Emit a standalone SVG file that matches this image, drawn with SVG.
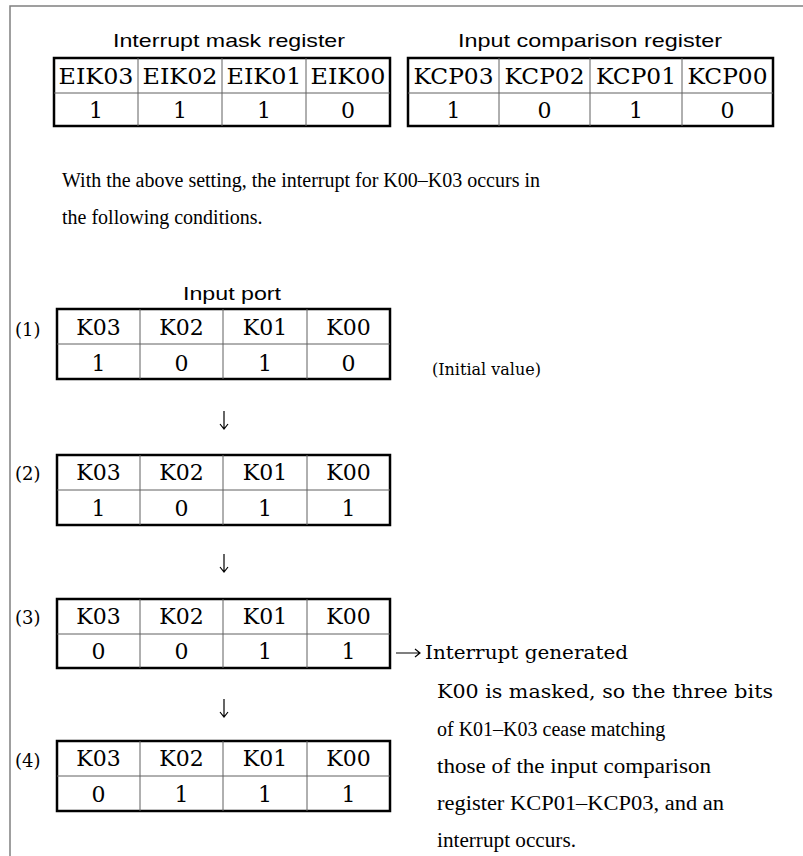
<svg xmlns="http://www.w3.org/2000/svg" width="803" height="856" viewBox="0 0 803 856">
  <style>
    .frame { fill: none; stroke: #808080; stroke-width: 1.5; }
    .outer { fill: #ffffff; stroke: #000000; stroke-width: 2.5; }
    .grid { stroke: #606060; stroke-width: 1; }
    .arrow { fill: none; stroke: #000000; stroke-width: 1.2; }
    .title { font-family: "Liberation Sans", Arial, sans-serif; font-size: 19px; fill: #000; text-anchor: middle; }
    .cell { font-family: "DejaVu Serif", "Liberation Serif", serif; font-size: 22px; fill: #000; text-anchor: middle; }
    .wide { font-family: "DejaVu Serif", "Liberation Serif", serif; font-size: 19px; fill: #000; }
    .body { font-family: "Liberation Serif", "Times New Roman", serif; font-size: 20px; fill: #000; }
    .small { font-family: "DejaVu Serif", "Liberation Serif", serif; font-size: 16px; fill: #000; }
    .num { font-family: "DejaVu Serif", "Liberation Serif", serif; font-size: 18px; fill: #000; }
  </style>

  <rect width="803" height="856" fill="#ffffff"/>
  <!-- page frame: top and left rules -->
  <path class="frame" d="M10,856 V6 H803"/>

  <!-- Interrupt mask register -->
  <g id="mask-register">
    <text class="title" x="229" y="47" textLength="232" lengthAdjust="spacingAndGlyphs">Interrupt mask register</text>
    <rect class="outer" x="54" y="58" width="336" height="68"/>
    <path class="grid" d="M54,93 H390 M138,58 V126 M222,58 V126 M306,58 V126"/>
    <text class="cell" x="96" y="84" textLength="75" lengthAdjust="spacingAndGlyphs">EIK03</text>
    <text class="cell" x="180" y="84" textLength="75" lengthAdjust="spacingAndGlyphs">EIK02</text>
    <text class="cell" x="264" y="84" textLength="75" lengthAdjust="spacingAndGlyphs">EIK01</text>
    <text class="cell" x="348" y="84" textLength="75" lengthAdjust="spacingAndGlyphs">EIK00</text>
    <text class="cell" x="96" y="118">1</text>
    <text class="cell" x="180" y="118">1</text>
    <text class="cell" x="264" y="118">1</text>
    <text class="cell" x="348" y="118">0</text>
  </g>

  <!-- Input comparison register -->
  <g id="comparison-register">
    <text class="title" x="590" y="47" textLength="264" lengthAdjust="spacingAndGlyphs">Input comparison register</text>
    <rect class="outer" x="408" y="58" width="365" height="68"/>
    <path class="grid" d="M408,93 H773 M499,58 V126 M590,58 V126 M682,58 V126"/>
    <text class="cell" x="453.5" y="84" textLength="80" lengthAdjust="spacingAndGlyphs">KCP03</text>
    <text class="cell" x="544.5" y="84" textLength="80" lengthAdjust="spacingAndGlyphs">KCP02</text>
    <text class="cell" x="636" y="84" textLength="80" lengthAdjust="spacingAndGlyphs">KCP01</text>
    <text class="cell" x="727.5" y="84" textLength="80" lengthAdjust="spacingAndGlyphs">KCP00</text>
    <text class="cell" x="453.5" y="118">1</text>
    <text class="cell" x="544.5" y="118">0</text>
    <text class="cell" x="636" y="118">1</text>
    <text class="cell" x="727.5" y="118">0</text>
  </g>

  <g id="intro-text">
    <text class="body" x="62" y="187">With the above setting, the interrupt for K00–K03 occurs in</text>
    <text class="body" x="62" y="224">the following conditions.</text>
  </g>

  <!-- Input port state (1) -->
  <g id="port-state-1">
    <text class="title" x="232" y="300" textLength="98" lengthAdjust="spacingAndGlyphs">Input port</text>
    <text class="num" x="15" y="336">(1)</text>
    <rect class="outer" x="57" y="309" width="333" height="70"/>
    <path class="grid" d="M57,344 H390 M140,309 V379 M223,309 V379 M307,309 V379"/>
    <text class="cell" x="98.5" y="335">K03</text>
    <text class="cell" x="181.5" y="335">K02</text>
    <text class="cell" x="265" y="335">K01</text>
    <text class="cell" x="348.5" y="335">K00</text>
    <text class="cell" x="98.5" y="371">1</text>
    <text class="cell" x="181.5" y="371">0</text>
    <text class="cell" x="265" y="371">1</text>
    <text class="cell" x="348.5" y="371">0</text>
    <text class="small" x="432" y="375">(Initial value)</text>
  </g>

  <!-- Input port state (2) -->
  <g id="port-state-2">
    <text class="num" x="15" y="480">(2)</text>
    <rect class="outer" x="57" y="455" width="333" height="70"/>
    <path class="grid" d="M57,490 H390 M140,455 V525 M223,455 V525 M307,455 V525"/>
    <text class="cell" x="98.5" y="480">K03</text>
    <text class="cell" x="181.5" y="480">K02</text>
    <text class="cell" x="265" y="480">K01</text>
    <text class="cell" x="348.5" y="480">K00</text>
    <text class="cell" x="98.5" y="516">1</text>
    <text class="cell" x="181.5" y="516">0</text>
    <text class="cell" x="265" y="516">1</text>
    <text class="cell" x="348.5" y="516">1</text>
  </g>

  <!-- Input port state (3) -->
  <g id="port-state-3">
    <text class="num" x="15" y="624">(3)</text>
    <rect class="outer" x="57" y="599" width="333" height="69"/>
    <path class="grid" d="M57,634 H390 M140,599 V668 M223,599 V668 M307,599 V668"/>
    <text class="cell" x="98.5" y="624">K03</text>
    <text class="cell" x="181.5" y="624">K02</text>
    <text class="cell" x="265" y="624">K01</text>
    <text class="cell" x="348.5" y="624">K00</text>
    <text class="cell" x="98.5" y="659">0</text>
    <text class="cell" x="181.5" y="659">0</text>
    <text class="cell" x="265" y="659">1</text>
    <text class="cell" x="348.5" y="659">1</text>
    <path class="arrow" d="M396,653 H420 M415,649 L420,653 L415,657"/>
    <text class="wide" x="425" y="659" textLength="203" lengthAdjust="spacingAndGlyphs">Interrupt generated</text>
  </g>

  <!-- Input port state (4) -->
  <g id="port-state-4">
    <text class="num" x="15" y="767">(4)</text>
    <rect class="outer" x="57" y="741" width="333" height="70"/>
    <path class="grid" d="M57,776 H390 M140,741 V811 M223,741 V811 M307,741 V811"/>
    <text class="cell" x="98.5" y="766">K03</text>
    <text class="cell" x="181.5" y="766">K02</text>
    <text class="cell" x="265" y="766">K01</text>
    <text class="cell" x="348.5" y="766">K00</text>
    <text class="cell" x="98.5" y="802">0</text>
    <text class="cell" x="181.5" y="802">1</text>
    <text class="cell" x="265" y="802">1</text>
    <text class="cell" x="348.5" y="802">1</text>
  </g>

  <!-- transitions between states -->
  <g id="connectors">
    <path class="arrow" d="M224,411 V429 M220,424 L224,429 L228,424"/>
    <path class="arrow" d="M224,554 V572 M220,567 L224,572 L228,567"/>
    <path class="arrow" d="M224,699 V717 M220,712 L224,717 L228,712"/>
  </g>

  <g id="note">
    <text class="wide" x="437" y="698" textLength="336" lengthAdjust="spacingAndGlyphs">K00 is masked, so the three bits</text>
    <text class="body" x="437" y="736">of K01–K03 cease matching</text>
    <text class="body" x="437" y="773" textLength="274" lengthAdjust="spacingAndGlyphs">those of the input comparison</text>
    <text class="body" x="437" y="810" textLength="287" lengthAdjust="spacingAndGlyphs">register KCP01–KCP03, and an</text>
    <text class="body" x="437" y="847" textLength="139" lengthAdjust="spacingAndGlyphs">interrupt occurs.</text>
  </g>
</svg>
